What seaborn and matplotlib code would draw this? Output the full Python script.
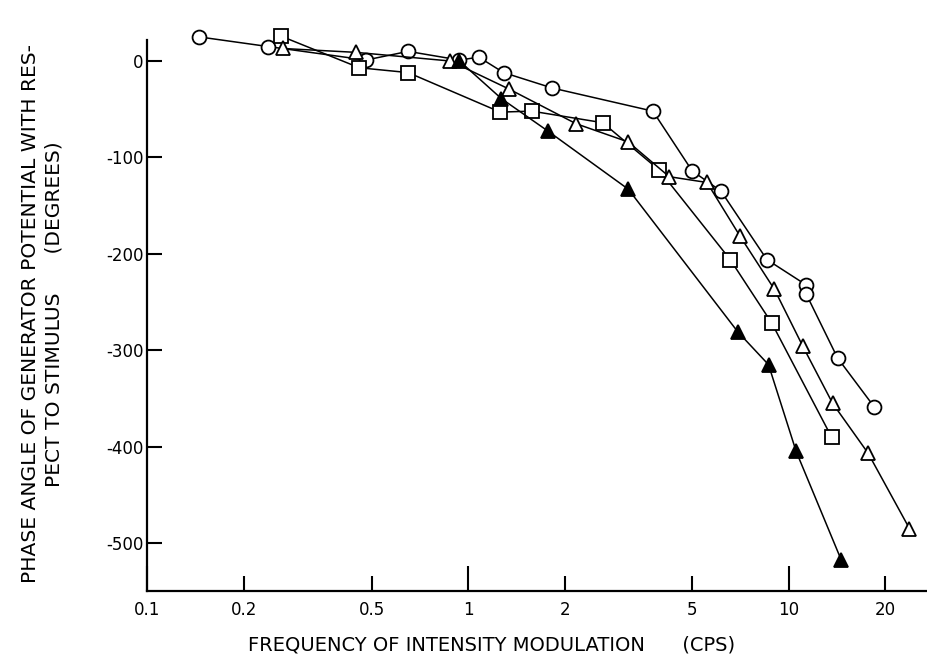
import numpy as np
import pandas as pd
import seaborn as sns
from matplotlib import pyplot as plt
from matplotlib.ticker import FixedLocator, FixedFormatter

# Frequency (cps) and phase angle (degrees)
circ_x = [0.145, 0.238, 0.48, 0.65, 0.94, 1.08, 1.29, 1.83, 3.77, 5.0, 6.15, 8.55, 11.3, 11.35, 14.2, 18.5]
circ_y = [25, 15, 1, 10, 1, 4, -12, -28, -52, -114, -135, -206, -232, -242, -308, -359]

sq_x = [0.26, 0.458, 0.65, 1.26, 1.58, 2.63, 3.94, 6.57, 8.86, 13.6]
sq_y = [26, -7, -12, -53, -52, -64, -113, -206, -272, -390]

tri_x = [0.264, 0.446, 0.88, 1.34, 2.17, 3.16, 4.24, 5.56, 7.06, 9.03, 11.07, 13.7, 17.7, 23.8]
tri_y = [13, 9, 0, -29, -65, -84, -120, -126, -182, -237, -296, -355, -407, -485]

ftri_x = [0.94, 1.27, 1.78, 3.16, 6.94, 8.65, 10.55, 14.6]
ftri_y = [0, -39, -73, -133, -281, -315, -405, -518]

major_ticks = [0.1, 1, 10]
major_labels = ["0.1", "1", "10"]
minor_ticks = [0.2, 0.5, 2, 5, 20]
minor_labels = ["0.2", "0.5", "2", "5", "20"]
y_ticks = [-500, -400, -300, -200, -100, 0]
y_labels = ["-500", "-400", "-300", "-200", "-100", "0"]

sns.set_style("ticks")
plt.rcParams['font.family'] = ['DejaVu Sans']
plt.rcParams['axes.unicode_minus'] = False
plt.rcParams['text.color'] = 'black'
plt.rcParams['axes.labelcolor'] = 'black'
plt.rcParams['xtick.color'] = 'black'
plt.rcParams['ytick.color'] = 'black'
plt.rcParams['axes.edgecolor'] = 'black'

fig = plt.figure(figsize=(9.28, 6.56), dpi=100)
ax = fig.add_axes([147.5 / 928, 1 - 591 / 656, (927 - 147.5) / 928, (591 - 40) / 656])

series = [
    (circ_x, circ_y, 'o', 'white', 10),
    (sq_x, sq_y, 's', 'white', 9.5),
    (tri_x, tri_y, '^', 'white', 10),
    (ftri_x, ftri_y, '^', 'black', 10),
]
for xs, ys, mk, fc, ms in series:
    df = pd.DataFrame({'freq': xs, 'phase': ys})
    sns.lineplot(data=df, x='freq', y='phase', sort=False, estimator=None,
                 color='black', linewidth=1.1, marker=mk, markersize=ms,
                 markerfacecolor=fc, markeredgecolor='black', markeredgewidth=1.3,
                 clip_on=False, ax=ax)

ax.set_xscale('log')
ax.set_xlim(0.1, 27)
ax.set_ylim(-549.8, 21.8)

ax.xaxis.set_major_locator(FixedLocator(major_ticks))
ax.xaxis.set_major_formatter(FixedFormatter(major_labels))
ax.xaxis.set_minor_locator(FixedLocator(minor_ticks))
ax.xaxis.set_minor_formatter(FixedFormatter(minor_labels))
ax.yaxis.set_major_locator(FixedLocator(y_ticks))
ax.yaxis.set_major_formatter(FixedFormatter(y_labels))

ax.tick_params(axis='x', which='major', direction='in', length=18, width=1.5, pad=7, labelsize=12)
ax.tick_params(axis='x', which='minor', direction='in', length=11, width=1.5, pad=7, labelsize=12)
ax.tick_params(axis='y', direction='in', length=11, width=1.5, pad=3, labelsize=12)

sns.despine(ax=ax)
for s in ['left', 'bottom']:
    ax.spines[s].set_linewidth(1.6)

ax.set_xlabel("FREQUENCY OF INTENSITY MODULATION      (CPS)", fontsize=14)
ax.xaxis.set_label_coords(0.442, -0.098)
ax.xaxis.label.set_va('center')
ax.set_ylabel("PHASE ANGLE OF GENERATOR POTENTIAL WITH RES-\nPECT TO STIMULUS      (DEGREES)",
              fontsize=14.6, linespacing=1.3)
ax.yaxis.set_label_coords(-0.135, 0.503)
ax.yaxis.label.set_va('center')

plt.savefig('out.png', dpi=100)
